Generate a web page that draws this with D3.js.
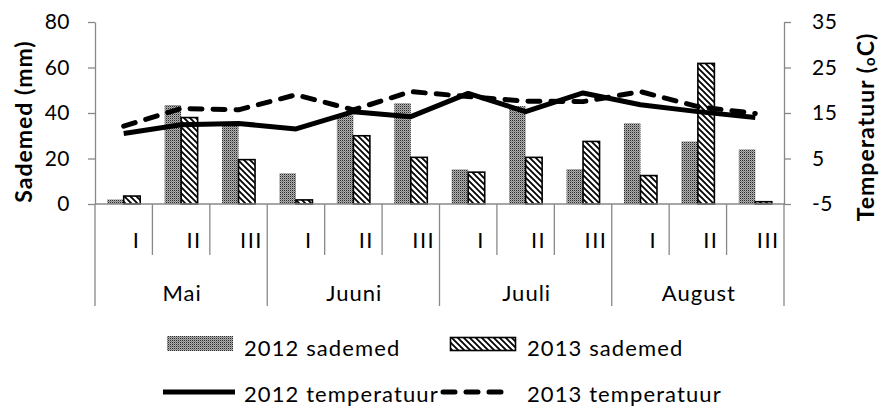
<!DOCTYPE html>
<html>
<head>
<meta charset="utf-8">
<script src="https://cdn.jsdelivr.net/npm/d3@7"></script>
<style>
  html, body { margin: 0; padding: 0; background: #fff; }
  svg { display: block; font-family: Lato, "Open Sans", sans-serif; }
</style>
</head>
<body>
<svg id="chart" width="879" height="407"></svg>
<script>
// ---- data ----
const months = ["Mai", "Juuni", "Juuli", "August"];
const decades = ["I", "II", "III"];
const rain2012 = [2, 43.5, 35, 13.5, 39, 44.3, 15.2, 43, 15.3, 35.5, 27.5, 24];
const rain2013 = [3.5, 38, 19.5, 1.8, 30, 20.5, 14, 20.5, 27.5, 12.5, 61.8, 1];
const temp2012 = [10.5, 12.4, 12.7, 11.5, 15.3, 14.2, 19.3, 15.3, 19.4, 16.8, 15.3, 14.0];
const temp2013 = [12.1, 16.0, 15.7, 19.0, 15.7, 19.7, 18.6, 17.6, 17.5, 19.7, 16.4, 14.9];
const leftTicks = [0, 20, 40, 60, 80];
const rightTicks = [-5, 5, 15, 25, 35];
const legendLabels = ["2012 sademed", "2013 sademed", "2012 temperatuur", "2013 temperatuur"];

// ---- layout ----
const svg = d3.select("#chart");
const X0 = 95, X1 = 784, YT = 22, YB = 204;
const axisColor = "#888";

const idx = d3.range(months.length * decades.length);
const x = d3.scaleBand().domain(idx).range([X0, X1]).padding(0);
const xm = d3.scaleBand().domain(months).range([X0, X1]).padding(0);
const yL = d3.scaleLinear().domain([0, 80]).range([YB, YT]);
const yR = d3.scaleLinear().domain([-5, 35]).range([YB, YT]);
const bw = x.bandwidth();
const barW = bw * 0.2875;

// ---- patterns ----
const defs = svg.append("defs");
const p1 = defs.append("pattern").attr("id", "p2012").attr("patternUnits", "userSpaceOnUse")
  .attr("width", 2).attr("height", 2);
p1.append("rect").attr("width", 2).attr("height", 2).attr("fill", "#b0b0b0");
p1.append("rect").attr("width", 1).attr("height", 1).attr("fill", "#2a2a2a");
p1.append("rect").attr("x", 1).attr("y", 1).attr("width", 1).attr("height", 1).attr("fill", "#808080");

const p2 = defs.append("pattern").attr("id", "p2013").attr("patternUnits", "userSpaceOnUse")
  .attr("width", 6).attr("height", 6);
p2.append("rect").attr("width", 6).attr("height", 6).attr("fill", "#fff");
p2.append("path").attr("d", "M-1,-1 L7,7 M-1,5 L1,7 M5,-1 L7,1")
  .attr("stroke", "#000").attr("stroke-width", 1.8);

// ---- bars ----
svg.append("g").selectAll("rect").data(rain2012).join("rect")
  .attr("x", (d, i) => x(i) + bw / 2 - barW)
  .attr("y", d => yL(d))
  .attr("width", barW)
  .attr("height", d => yL(0) - yL(d))
  .attr("fill", "url(#p2012)");

svg.append("g").selectAll("rect").data(rain2013).join("rect")
  .attr("x", (d, i) => x(i) + bw / 2)
  .attr("y", d => yL(d))
  .attr("width", barW)
  .attr("height", d => yL(0) - yL(d))
  .attr("fill", "url(#p2013)")
  .attr("stroke", "#000").attr("stroke-width", 1.6);

// ---- axes ----
const gL = svg.append("g").attr("transform", `translate(${X0},0)`)
  .call(d3.axisLeft(yL).tickValues(leftTicks).tickFormat(d => String(d))
    .tickSize(7).tickSizeOuter(0).tickPadding(18));
const gR = svg.append("g").attr("transform", `translate(${X1},0)`)
  .call(d3.axisRight(yR).tickValues(rightTicks).tickFormat(d => String(d))
    .tickSize(7).tickSizeOuter(0).tickPadding(21));
[gL, gR].forEach(g => {
  g.select(".domain").attr("stroke", axisColor).attr("stroke-width", 1.3);
  g.selectAll(".tick line").attr("stroke", axisColor).attr("stroke-width", 1.3);
  g.selectAll(".tick text").attr("fill", "#000").style("font-size", "21px")
    .style("letter-spacing", "0.5px").style("font-family", "Lato, 'Open Sans', sans-serif");
});

// horizontal axis line
svg.append("line").attr("x1", X0).attr("x2", X1).attr("y1", YB).attr("y2", YB)
  .attr("stroke", axisColor).attr("stroke-width", 1.6);

// category separators
const sep = svg.append("g");
d3.range(idx.length + 1).forEach(i => {
  const xx = i < idx.length ? x(i) : X1;
  const isMonth = i % decades.length === 0;
  sep.append("line").attr("x1", xx).attr("x2", xx)
    .attr("y1", YB).attr("y2", isMonth ? 306 : 255)
    .attr("stroke", axisColor).attr("stroke-width", 1.3);
});

// decade labels
svg.append("g").selectAll("text").data(idx).join("text")
  .attr("x", i => x(i) + bw / 2 + 13)
  .attr("y", 248)
  .attr("text-anchor", "middle")
  .style("font-size", "22px").style("letter-spacing", "1.5px")
  .text(i => decades[i % decades.length]);

// month labels
svg.append("g").selectAll("text").data(months).join("text")
  .attr("x", m => xm(m) + xm.bandwidth() / 2 + 1)
  .attr("y", 301)
  .attr("text-anchor", "middle")
  .style("font-size", "22px").style("letter-spacing", "1px")
  .text(m => m);

// ---- lines ----
const line = d3.line().x((d, i) => x(i) + bw / 2).y(d => yR(d));
svg.append("path").datum(temp2012).attr("d", line)
  .attr("fill", "none").attr("stroke", "#000").attr("stroke-width", 5)
  .attr("stroke-linejoin", "round");
svg.append("path").datum(temp2013).attr("d", line)
  .attr("fill", "none").attr("stroke", "#000").attr("stroke-width", 5)
  .attr("stroke-linejoin", "round").attr("stroke-linecap", "round")
  .attr("stroke-dasharray", "12,11");

// ---- axis titles ----
svg.append("text")
  .attr("transform", "translate(23,121.5) rotate(-90)")
  .attr("text-anchor", "middle").attr("dominant-baseline", "central")
  .style("font-size", "23px").style("font-weight", "bold")
  .style("letter-spacing", "1px")
  .text("Sademed (mm)");

const tR = svg.append("text")
  .attr("transform", "translate(865,127) rotate(-90)")
  .attr("text-anchor", "middle").attr("dominant-baseline", "central")
  .style("font-size", "23px").style("font-weight", "bold")
  .style("letter-spacing", "1px");
tR.append("tspan").text("Temperatuur (");
tR.append("tspan").text("o").style("font-size", "15px").attr("dy", 4);
tR.append("tspan").text("C)").attr("dy", -4);

// ---- legend ----
const lg = svg.append("g");
lg.append("rect").attr("x", 167).attr("y", 336).attr("width", 66).attr("height", 15)
  .attr("fill", "url(#p2012)");
lg.append("rect").attr("x", 450.5).attr("y", 337.5).attr("width", 65).attr("height", 13)
  .attr("fill", "url(#p2013)").attr("stroke", "#000").attr("stroke-width", 1.6);
lg.append("line").attr("x1", 163).attr("x2", 235).attr("y1", 392).attr("y2", 392)
  .attr("stroke", "#000").attr("stroke-width", 5);
lg.append("line").attr("x1", 443).attr("x2", 512).attr("y1", 392).attr("y2", 392)
  .attr("stroke", "#000").attr("stroke-width", 5).attr("stroke-linecap", "round")
  .attr("stroke-dasharray", "12,11");
const legPos = [[244, 356], [527, 356], [244, 402], [527, 402]];
lg.selectAll("text").data(legendLabels).join("text")
  .attr("x", (d, i) => legPos[i][0]).attr("y", (d, i) => legPos[i][1])
  .style("font-size", "22px").style("letter-spacing", "1.1px")
  .text(d => d);
</script>
</body>
</html>
